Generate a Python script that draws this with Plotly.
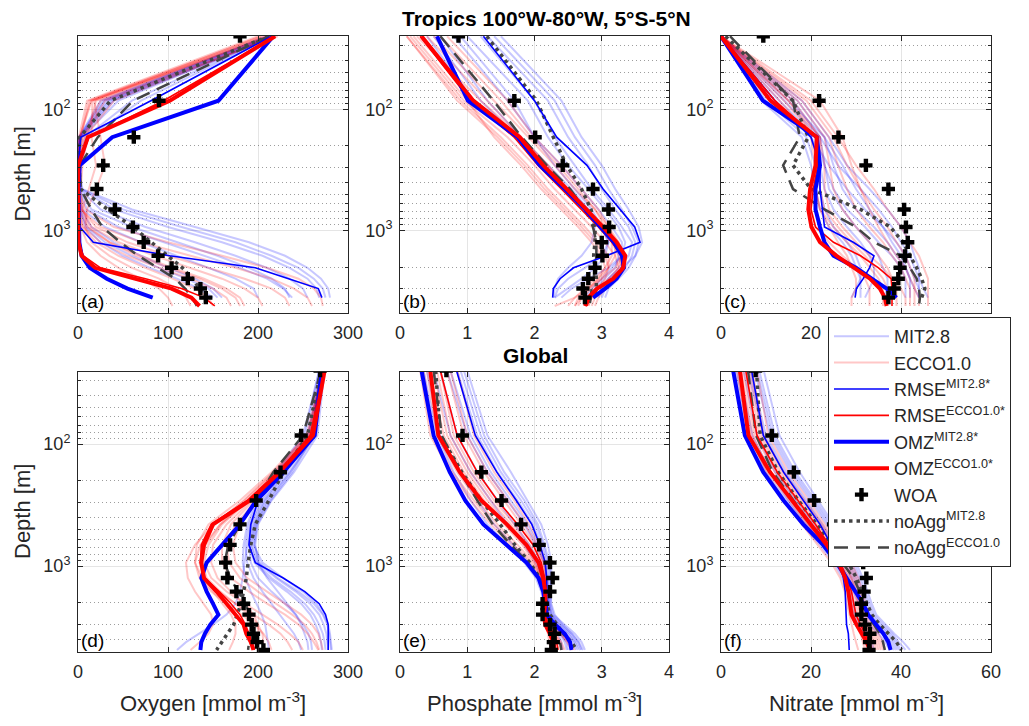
import plotly.graph_objects as go

# ---------------- data ----------------
depth = [25, 85, 170, 290, 455, 670, 935, 1250, 1615, 2030, 2495, 3010, 3575, 4190, 4855]

# (a) Oxygen, tropics  (MIT: 13 levels, ECCO: 14 levels)
a_mit_ens = [
    [215, 35, 2, 0.5, 5, 60, 130, 190, 230, 255, 270, 278, 280],
    [212, 30, 1, 0.5, 3, 40, 100, 160, 205, 235, 255, 265, 268],
    [218, 40, 3, 0.5, 1, 15, 60, 110, 155, 190, 215, 230, 235],
    [210, 25, 1, 0.5, 0.5, 5, 30, 70, 110, 145, 175, 195, 200],
    [214, 60, 8, 1, 1, 3, 15, 40, 70, 100, 130, 150, 160],
    [216, 45, 4, 0.5, 0.5, 2, 8, 25, 50, 80, 110, 135, 150],
    [213, 33, 2, 0.5, 2, 25, 75, 130, 175, 210, 235, 250, 255],
    [217, 38, 2, 0.5, 1, 10, 45, 95, 140, 180, 210, 228, 238],
    [211, 28, 1, 0.5, 4, 50, 115, 175, 215, 245, 262, 272, 275],
    [215, 70, 12, 2, 1, 2, 10, 30, 60, 90, 120, 145, 155],
]
a_ecco_ens = [
    [205, 12, 3, 0.5, 0.5, 1, 5, 20, 45, 75, 105, 130, 145, 150],
    [210, 18, 25, 30, 20, 10, 8, 15, 35, 60, 90, 110, 120, 125],
    [220, 25, 5, 1, 1, 4, 20, 55, 100, 145, 185, 215, 230, 235],
    [215, 15, 2, 0.5, 0.5, 2, 10, 35, 70, 105, 140, 165, 180, 185],
    [200, 10, 1, 0.5, 0.5, 8, 40, 100, 160, 210, 245, 262, 270, 272],
    [218, 40, 8, 2, 1, 1, 3, 10, 25, 45, 70, 90, 100, 105],
    [212, 20, 10, 5, 3, 5, 15, 45, 85, 125, 160, 185, 200, 205],
    [208, 14, 2, 0.5, 0.5, 3, 25, 70, 125, 175, 215, 240, 255, 260],
    [222, 30, 6, 1, 1, 1, 6, 25, 55, 90, 125, 150, 165, 170],
    [203, 16, 15, 20, 12, 5, 12, 35, 65, 100, 135, 160, 175, 180],
]
a_rmse_mit = [215, 81, 3, 0.5, 0.5, 0.5, 2, 17, 102, 197, 234, 267, 271]
a_rmse_ecco = [219, 95, 12, 0.5, 0, 0, 0, 1, 6, 25, 75, 115, 140, 152]
a_omz_mit = [217, 156, 38, 2, 0.5, 0.5, 0.5, 1.5, 4, 13, 32, 55, 83]
a_omz_ecco = [219, 102, 11, 0.3, 0, 0, 0, 0.5, 4, 19, 63, 104, 126, 135]
a_woa = [180, 90, 62, 28, 21, 41, 61, 73, 89, 104, 122, 136, 142]
a_noagg_mit = [212, 36, 2, 0.5, 3, 33, 61, 82, 99, 116, 127, 135, 139]
a_noagg_ecco = [212, 61, 22, 2, 3, 15, 27, 47, 67, 88, 108, 119, 127, 132]

# (b) Phosphate, tropics
b_mit_ens = [
    [1.5, 2.4, 2.7, 3.0, 3.2, 3.4, 3.55, 3.6, 3.5, 3.3, 3.1, 3.0, 2.95],
    [1.2, 2.0, 2.3, 2.6, 2.85, 3.1, 3.3, 3.45, 3.4, 3.25, 3.1, 3.0, 2.9],
    [0.9, 1.7, 2.0, 2.3, 2.6, 2.85, 3.0, 3.1, 3.05, 2.9, 2.7, 2.5, 2.3],
    [0.6, 1.3, 1.8, 2.2, 2.55, 2.8, 2.9, 2.85, 2.7, 2.5, 2.35, 2.3, 2.28],
    [1.0, 1.9, 2.2, 2.5, 2.8, 3.05, 3.25, 3.35, 3.3, 3.15, 3.0, 2.85, 2.75],
    [0.4, 1.1, 1.7, 2.1, 2.45, 2.75, 3.0, 3.2, 3.25, 3.2, 3.05, 2.9, 2.8],
    [1.3, 2.2, 2.5, 2.8, 3.0, 3.2, 3.4, 3.5, 3.45, 3.35, 3.2, 3.05, 3.0],
    [0.8, 1.6, 2.0, 2.4, 2.7, 2.95, 3.15, 3.3, 3.3, 3.1, 2.8, 2.55, 2.4],
    [1.4, 2.3, 2.6, 2.9, 3.1, 3.3, 3.45, 3.55, 3.5, 3.4, 3.25, 3.1, 3.05],
    [0.5, 1.2, 1.75, 2.15, 2.5, 2.8, 3.0, 3.1, 3.0, 2.75, 2.5, 2.35, 2.3],
]
b_ecco_ens = [
    [0.1, 0.9, 1.5, 1.9, 2.2, 2.5, 2.75, 2.95, 3.1, 3.1, 3.0, 2.85, 2.7, 2.6],
    [0.3, 1.1, 1.7, 2.1, 2.45, 2.75, 3.0, 3.2, 3.3, 3.25, 3.1, 2.9, 2.8, 2.75],
    [0.5, 1.4, 1.9, 2.3, 2.6, 2.9, 3.1, 3.25, 3.3, 3.2, 3.0, 2.8, 2.65, 2.6],
    [0.2, 1.0, 1.4, 1.8, 2.1, 2.4, 2.65, 2.85, 3.0, 3.05, 2.95, 2.8, 2.6, 2.3],
    [0.7, 1.6, 2.0, 2.4, 2.7, 2.95, 3.1, 3.2, 3.2, 3.1, 2.95, 2.8, 2.7, 2.65],
    [0.15, 0.95, 1.6, 2.0, 2.3, 2.6, 2.85, 3.05, 3.2, 3.25, 3.15, 3.0, 2.9, 2.85],
    [0.4, 1.3, 1.8, 2.2, 2.5, 2.8, 3.0, 3.15, 3.25, 3.3, 3.2, 3.05, 2.95, 2.9],
    [0.25, 1.2, 1.8, 2.2, 2.5, 2.8, 3.05, 3.25, 3.35, 3.3, 3.15, 2.95, 2.85, 2.8],
    [0.6, 1.5, 1.95, 2.35, 2.65, 2.9, 3.05, 3.15, 3.15, 3.05, 2.9, 2.75, 2.6, 2.5],
    [0.1, 0.85, 1.45, 1.85, 2.15, 2.45, 2.7, 2.9, 3.05, 3.1, 3.05, 2.95, 2.85, 2.8],
]
b_rmse_mit = [1.24, 2.0, 2.33, 2.78, 3.02, 3.27, 3.49, 3.57, 3.07, 2.58, 2.38, 2.28, 2.27]
b_rmse_ecco = [0.3, 1.05, 1.7, 2.05, 2.4, 2.7, 2.95, 3.15, 3.3, 3.3, 3.15, 2.95, 2.82, 2.78]
b_omz_mit = [0.55, 1.01, 1.75, 2.08, 2.45, 2.75, 2.98, 3.18, 3.30, 3.33, 3.22, 3.05, 2.87]
b_omz_ecco = [0.32, 1.09, 1.78, 2.13, 2.48, 2.78, 3.02, 3.22, 3.35, 3.32, 3.17, 2.93, 2.80, 2.75]
b_woa = [0.87, 1.70, 2.01, 2.42, 2.87, 3.10, 3.11, 3.0, 3.01, 2.90, 2.80, 2.72, 2.75]
b_noagg_mit = [1.29, 2.03, 2.28, 2.48, 2.70, 2.84, 2.90, 2.90, 2.88, 2.90, 2.92, 2.92, 2.88]
b_noagg_ecco = [0.6, 1.39, 1.81, 2.18, 2.53, 2.75, 2.87, 2.92, 2.92, 2.9, 2.88, 2.85, 2.83, 2.82]

# (c) Nitrate, tropics
c_mit_ens = [
    [0, 12, 20, 24, 28, 32, 36, 39, 41, 42, 43, 44, 44],
    [0, 14, 22, 26, 31, 35, 38, 40, 42, 43, 44, 45, 46],
    [0, 10, 19, 21, 22, 23, 25, 28, 30, 31, 31, 30, 29],
    [0, 16, 22, 23, 24, 27, 30, 33, 35, 36, 37, 37, 36],
    [0, 18, 24, 28, 33, 37, 40, 42, 43, 44, 44, 44, 44],
    [0, 11, 20, 22, 23, 25, 28, 31, 33, 34, 34, 33, 32],
    [0, 13, 21, 23, 25, 28, 32, 35, 38, 40, 41, 41, 41],
    [0, 15, 23, 25, 27, 30, 34, 37, 39, 41, 42, 42, 42],
    [0, 9, 18, 20, 21, 22, 24, 27, 29, 30, 31, 31, 31],
    [0, 17, 23, 27, 30, 33, 36, 38, 40, 41, 42, 43, 44],
]
c_ecco_ens = [
    [0, 15, 22, 22, 21, 22, 25, 28, 31, 33, 35, 36, 36, 36],
    [0, 17, 23, 24, 25, 27, 30, 33, 35, 37, 38, 39, 39, 39],
    [0, 19, 25, 28, 31, 34, 37, 39, 41, 42, 43, 43, 43, 43],
    [0, 14, 21, 21, 20, 20, 21, 24, 27, 30, 32, 33, 33, 33],
    [0, 20, 26, 30, 34, 37, 40, 42, 44, 45, 46, 46, 46, 46],
    [0, 16, 22, 23, 23, 24, 27, 30, 33, 36, 38, 40, 41, 41],
    [0, 13, 20, 21, 21, 22, 24, 26, 28, 29, 30, 30, 29, 29],
    [0, 18, 24, 26, 28, 30, 33, 36, 38, 40, 41, 42, 42, 42],
    [0, 22, 27, 29, 31, 33, 35, 37, 39, 41, 42, 43, 44, 44],
    [0, 15, 21, 22, 22, 23, 26, 29, 32, 34, 36, 37, 37, 37],
]
c_rmse_mit = [0, 12, 20, 22, 22, 22.5, 23, 29.4, 34, 33, 31.6, 30.1, 29.8]
c_rmse_ecco = [0, 12, 21, 21.5, 20.5, 20, 21, 25, 31, 35, 37.8, 38, 38, 38]
c_omz_mit = [0, 9.3, 21.3, 22, 21, 21, 22, 23, 25, 30, 33.5, 36.8, 39]
c_omz_ecco = [0, 11, 21.3, 21, 19.8, 19.4, 20.1, 22, 25.7, 29.4, 33.1, 35.3, 36.4, 36.8]
c_woa = [9.4, 21.8, 26.1, 32.2, 37.2, 40.7, 41.1, 41.5, 40.9, 39.8, 39.4, 38.5, 37.2]
c_noagg_mit = [1, 16, 19.4, 16, 20, 31, 37.6, 40.5, 42, 43.5, 44.6, 45.3, 44.6]
c_noagg_ecco = [2, 16, 17.5, 13.8, 16, 23, 30, 34, 40, 42, 43.5, 44, 44.2, 44]

# (d) Oxygen, global (15 levels)
d_mit_ens = [
    [272, 262, 235, 210, 198, 195, 205, 228, 250, 265, 273, 278, 280, 281, 282],
    [270, 258, 228, 205, 193, 190, 196, 212, 232, 248, 258, 264, 268, 270, 271],
    [274, 266, 240, 215, 200, 197, 200, 210, 222, 233, 242, 248, 252, 255, 256],
    [268, 252, 222, 200, 190, 186, 188, 195, 205, 215, 225, 233, 240, 245, 248],
    [271, 255, 225, 203, 192, 188, 185, 183, 180, 175, 165, 150, 135, 120, 110],
    [273, 264, 236, 212, 197, 193, 200, 220, 242, 258, 268, 273, 276, 277, 278],
    [269, 256, 230, 207, 195, 190, 192, 200, 215, 230, 242, 250, 256, 259, 260],
    [271, 260, 232, 208, 196, 192, 198, 215, 236, 252, 262, 268, 272, 274, 275],
    [273, 262, 238, 214, 199, 196, 202, 222, 245, 262, 272, 277, 279, 280, 281],
    [268, 250, 220, 198, 188, 184, 183, 186, 192, 198, 204, 208, 210, 211, 212],
]
d_ecco_ens = [
    [273, 258, 222, 190, 160, 145, 140, 148, 165, 185, 205, 222, 235, 245, 250],
    [272, 256, 218, 185, 150, 130, 120, 122, 130, 140, 148, 150, 145, 135, 125],
    [274, 260, 225, 195, 170, 160, 160, 170, 190, 210, 230, 245, 255, 262, 267],
    [271, 254, 215, 180, 145, 132, 130, 138, 150, 160, 170, 175, 175, 172, 168],
    [275, 262, 228, 200, 180, 172, 175, 188, 210, 230, 248, 260, 267, 270, 272],
    [272, 257, 220, 188, 158, 140, 135, 140, 155, 175, 195, 212, 225, 233, 238],
    [273, 259, 223, 193, 165, 150, 148, 155, 170, 185, 195, 200, 200, 198, 195],
    [272, 255, 217, 184, 152, 136, 130, 135, 148, 165, 182, 196, 206, 212, 215],
    [274, 261, 226, 198, 175, 165, 168, 180, 200, 220, 238, 252, 260, 265, 268],
    [273, 258, 221, 189, 158, 142, 138, 143, 158, 175, 190, 200, 205, 206, 205],
]
d_rmse_mit = [270, 260, 230, 200, 192, 190, 197, 228, 252, 268, 275, 278, 278, 278, 278]
d_rmse_ecco = [273, 258, 222, 188, 148, 137, 136, 141, 157, 170, 180, 186, 190, 193, 196]
d_omz_mit = [271, 263, 228, 198, 180, 160, 143, 137, 143, 150, 156, 147, 141, 137, 136]
d_omz_ecco = [274, 261, 224, 191, 150, 140, 137, 140, 154, 165, 176, 184, 187, 192, 195]
d_woa = [269, 248, 225, 198, 180, 169, 164, 166, 176, 184, 190, 193, 195, 199, 206]
d_noagg_mit = [270, 255, 228, 212, 197, 192, 189, 187, 184, 181, 177, 173, 166, 160, 154]
d_noagg_ecco = [270, 250, 217, 198, 180, 167, 163, 169, 178, 186, 191, 193, 192, 190, 189]

# (e) Phosphate, global
e_mit_ens = [
    [1.0, 1.3, 1.65, 1.9, 2.1, 2.2, 2.25, 2.25, 2.24, 2.24, 2.28, 2.45, 2.6, 2.7, 2.75],
    [0.85, 1.15, 1.45, 1.75, 1.98, 2.1, 2.18, 2.2, 2.2, 2.2, 2.22, 2.35, 2.48, 2.58, 2.62],
    [0.6, 0.85, 1.15, 1.45, 1.7, 1.92, 2.08, 2.15, 2.18, 2.19, 2.2, 2.3, 2.4, 2.48, 2.5],
    [0.4, 0.6, 0.88, 1.15, 1.4, 1.68, 1.92, 2.08, 2.15, 2.17, 2.18, 2.25, 2.35, 2.4, 2.42],
    [0.7, 1.0, 1.3, 1.6, 1.85, 2.02, 2.14, 2.18, 2.2, 2.22, 2.25, 2.38, 2.52, 2.62, 2.68],
    [0.35, 0.55, 0.8, 1.05, 1.3, 1.6, 1.85, 2.02, 2.1, 2.14, 2.16, 2.2, 2.25, 2.28, 2.3],
    [0.95, 1.25, 1.55, 1.85, 2.05, 2.15, 2.22, 2.24, 2.24, 2.25, 2.3, 2.42, 2.55, 2.65, 2.7],
    [0.75, 1.05, 1.35, 1.65, 1.9, 2.05, 2.15, 2.19, 2.2, 2.21, 2.24, 2.36, 2.5, 2.6, 2.65],
    [0.5, 0.75, 1.05, 1.35, 1.6, 1.85, 2.02, 2.12, 2.16, 2.18, 2.19, 2.27, 2.38, 2.45, 2.48],
    [0.9, 1.2, 1.5, 1.8, 2.02, 2.13, 2.2, 2.22, 2.22, 2.22, 2.26, 2.4, 2.56, 2.66, 2.72],
]
e_ecco_ens = [
    [0.3, 0.45, 0.75, 1.05, 1.35, 1.65, 1.9, 2.05, 2.12, 2.15, 2.15, 2.18, 2.22, 2.25, 2.27],
    [0.5, 0.7, 1.0, 1.3, 1.6, 1.85, 2.02, 2.1, 2.14, 2.15, 2.16, 2.2, 2.3, 2.38, 2.42],
    [0.7, 0.95, 1.25, 1.55, 1.8, 2.0, 2.12, 2.16, 2.17, 2.17, 2.18, 2.25, 2.38, 2.48, 2.55],
    [0.4, 0.55, 0.85, 1.15, 1.45, 1.75, 1.98, 2.1, 2.15, 2.16, 2.16, 2.2, 2.28, 2.33, 2.36],
    [0.85, 1.1, 1.4, 1.7, 1.92, 2.08, 2.16, 2.18, 2.18, 2.18, 2.2, 2.3, 2.42, 2.52, 2.6],
    [0.35, 0.5, 0.78, 1.1, 1.4, 1.7, 1.95, 2.08, 2.13, 2.14, 2.14, 2.16, 2.2, 2.22, 2.24],
    [0.6, 0.8, 1.1, 1.4, 1.7, 1.93, 2.06, 2.13, 2.16, 2.16, 2.17, 2.22, 2.32, 2.4, 2.45],
    [0.45, 0.65, 0.95, 1.25, 1.55, 1.82, 2.0, 2.09, 2.13, 2.14, 2.15, 2.19, 2.26, 2.3, 2.32],
    [0.75, 1.0, 1.3, 1.6, 1.86, 2.04, 2.14, 2.17, 2.18, 2.18, 2.19, 2.27, 2.4, 2.5, 2.57],
    [0.55, 0.75, 1.05, 1.35, 1.65, 1.9, 2.05, 2.12, 2.15, 2.16, 2.16, 2.21, 2.3, 2.36, 2.4],
]
e_rmse_mit = [0.84, 1.12, 1.44, 1.73, 1.96, 2.08, 2.16, 2.18, 2.18, 2.18, 2.2, 2.33, 2.45, 2.52, 2.55]
e_rmse_ecco = [0.6, 0.85, 1.15, 1.45, 1.75, 1.98, 2.1, 2.15, 2.17, 2.17, 2.16, 2.2, 2.28, 2.33, 2.35]
e_omz_mit = [0.32, 0.50, 0.74, 0.97, 1.24, 1.59, 1.88, 2.06, 2.13, 2.16, 2.18, 2.30, 2.45, 2.53, 2.55]
e_omz_ecco = [0.45, 0.57, 0.89, 1.21, 1.59, 1.88, 2.06, 2.13, 2.16, 2.16, 2.14, 2.16, 2.23, 2.28, 2.30]
e_woa = [0.69, 0.93, 1.21, 1.51, 1.80, 2.07, 2.23, 2.27, 2.23, 2.12, 2.12, 2.23, 2.30, 2.28, 2.25]
e_noagg_mit = [0.53, 0.6, 0.92, 1.21, 1.49, 1.71, 1.93, 2.08, 2.16, 2.18, 2.23, 2.33, 2.43, 2.55, 2.63]
e_noagg_ecco = [0.5, 0.62, 0.9, 1.15, 1.38, 1.65, 1.9, 2.07, 2.15, 2.17, 2.18, 2.25, 2.33, 2.38, 2.4]

# (f) Nitrate, global
f_mit_ens = [
    [9.5, 13, 17.5, 21.5, 25, 28, 30, 31.5, 32.5, 33.5, 34.5, 36.5, 38.5, 40.5, 42],
    [7.5, 11, 15.5, 20, 23.5, 26.5, 28.5, 30, 31, 32, 33, 35, 37, 38.5, 39.5],
    [5, 8, 12, 16.5, 20.5, 24, 26.5, 28.5, 29.5, 30.5, 31.5, 33, 35, 36.5, 37.5],
    [3, 5.5, 9.5, 14, 18, 22, 25, 27, 28, 28.5, 29, 30, 31.5, 32.5, 33],
    [8.5, 12, 16.5, 21, 24.5, 27.5, 29.5, 31, 32, 33, 34, 36, 38, 39.5, 41],
    [6, 9.5, 14, 18.5, 22, 25, 27.5, 29, 30, 31, 32, 34, 36, 37.5, 38.5],
    [4, 7, 11, 15, 19, 23, 26, 28, 29, 29.5, 30, 31, 32.5, 33.5, 34],
    [6.5, 10, 14.5, 19, 22.5, 25.5, 28, 29.5, 30.5, 31.5, 32.5, 34.5, 36.5, 38, 39],
    [3.5, 6, 10, 14.5, 18.5, 22.5, 25.5, 27.5, 28.5, 29, 29.5, 30.5, 32, 33, 33.5],
    [8, 11.5, 16, 20.5, 24, 27, 29, 30.5, 31.5, 32.5, 33.5, 35.5, 37.5, 39, 40],
]
f_ecco_ens = [
    [3.5, 6, 10.5, 15, 19, 22.5, 25.5, 27.5, 28.5, 29, 29.5, 30, 31, 31.5, 32],
    [5, 7.5, 12, 16.5, 20.5, 24, 26.5, 28.5, 29.5, 30, 30.5, 31.5, 32.5, 33.5, 34],
    [6.5, 9, 13.5, 18, 22, 25.5, 28, 29.5, 30.5, 31, 31.5, 32.5, 34, 35, 35.5],
    [4.5, 7, 11, 15.5, 19.5, 23, 26, 28, 29, 29.5, 30, 31, 32, 33, 33.5],
    [8, 10.5, 15, 19.5, 23, 26.5, 29, 30.5, 31.5, 32, 32.5, 33.5, 35, 36, 36.5],
    [4, 6.5, 10, 14, 18, 21.5, 24.5, 26.5, 27.5, 28, 28.5, 29, 29.5, 30, 30.5],
    [5.5, 8, 12.5, 17, 21, 24.5, 27, 29, 30, 30.5, 31, 32, 33, 34, 34.5],
    [4, 6.5, 11, 15.5, 19.5, 23, 25.5, 27.5, 28.5, 29, 29.5, 30.5, 31.5, 32, 32.5],
    [6, 8.5, 13, 17.5, 21.5, 25, 27.5, 29, 30, 30.5, 31, 32, 33.5, 34.5, 35],
    [7, 9.5, 14, 18.5, 22.5, 26, 28.5, 30, 31, 31.5, 32, 33, 34.5, 35.5, 36],
]
f_rmse_mit = [6.8, 9.4, 13.9, 18.3, 22, 24.5, 26.4, 27.2, 27.6, 27.7, 27.8, 27.9, 28.3, 28.4, 28.5]
f_rmse_ecco = [5.5, 8, 12.5, 17, 21, 24, 26.5, 28, 29, 29.5, 30, 31, 32, 33, 33.5]
f_omz_mit = [2.7, 5.3, 9.4, 13.9, 18.3, 22.7, 25.7, 27.9, 30.1, 31.6, 32.7, 34.6, 36.1, 37.2, 37.7]
f_omz_ecco = [4.2, 6.1, 10.9, 15.7, 19.8, 23.5, 26.1, 27.6, 28.3, 28.7, 29.0, 30.1, 31.3, 32.4, 33.1]
f_woa = [7.7, 11.3, 16.2, 20.7, 25.0, 29.0, 31.6, 32.3, 31.8, 31.2, 31.2, 32.0, 33.1, 33.0, 32.9]
f_noagg_mit = [7.9, 8.7, 12.7, 17.2, 21.3, 24.5, 28.3, 30.1, 31.3, 32.4, 33.5, 35.3, 37.2, 39, 40.1]
f_noagg_ecco = [6, 7.8, 11.5, 16, 20, 24, 27, 29.5, 30.8, 31.6, 32.5, 34, 35.3, 36, 36.4]

x_ticks_oxygen = [0, 100, 200, 300]
x_ticks_phosphate = [0, 1, 2, 3, 4]
x_ticks_nitrate = [0, 20, 40, 60]
panel_labels = ["(a)", "(b)", "(c)", "(d)", "(e)", "(f)"]
x_titles = ["Oxygen [mmol m<sup>-3</sup>]", "Phosphate [mmol m<sup>-3</sup>]", "Nitrate [mmol m<sup>-3</sup>]"]
legend_names = ["MIT2.8", "ECCO1.0", "RMSE<sup>MIT2.8*</sup>", "RMSE<sup>ECCO1.0*</sup>",
                "OMZ<sup>MIT2.8*</sup>", "OMZ<sup>ECCO1.0*</sup>", "WOA",
                "noAgg<sup>MIT2.8</sup>", "noAgg<sup>ECCO1.0</sup>"]

panels = [
    (a_mit_ens, a_ecco_ens, a_rmse_mit, a_rmse_ecco, a_omz_mit, a_omz_ecco, a_woa, a_noagg_mit, a_noagg_ecco),
    (b_mit_ens, b_ecco_ens, b_rmse_mit, b_rmse_ecco, b_omz_mit, b_omz_ecco, b_woa, b_noagg_mit, b_noagg_ecco),
    (c_mit_ens, c_ecco_ens, c_rmse_mit, c_rmse_ecco, c_omz_mit, c_omz_ecco, c_woa, c_noagg_mit, c_noagg_ecco),
    (d_mit_ens, d_ecco_ens, d_rmse_mit, d_rmse_ecco, d_omz_mit, d_omz_ecco, d_woa, d_noagg_mit, d_noagg_ecco),
    (e_mit_ens, e_ecco_ens, e_rmse_mit, e_rmse_ecco, e_omz_mit, e_omz_ecco, e_woa, e_noagg_mit, e_noagg_ecco),
    (f_mit_ens, f_ecco_ens, f_rmse_mit, f_rmse_ecco, f_omz_mit, f_omz_ecco, f_woa, f_noagg_mit, f_noagg_ecco),
]

# ---------------- layout geometry ----------------
W, H = 1029, 726
col_px = [(78, 348), (400, 669), (721, 991)]
row_px = [(36, 313), (372, 652)]
row_yrange = [(1.396, 3.68), (1.41, 3.703)]
x_ranges = [[0, 300], [0, 4], [0, 60]]
x_tickvals = [x_ticks_oxygen, x_ticks_phosphate, x_ticks_nitrate]

FONT = "Liberation Sans, Arial, Helvetica, sans-serif"
TXT = "#262626"
GRID = "rgba(38,38,38,0.12)"
MINOR = "rgba(38,38,38,0.45)"
GRAY = "#444444"
C_MIT_ENS = "rgba(0,0,255,0.22)"
C_ECCO_ENS = "rgba(255,0,0,0.22)"

fig = go.Figure()

minor_vals = [30, 40, 50, 60, 70, 80, 90, 200, 300, 400, 500, 600, 700, 800, 900, 2000, 3000, 4000]

for k in range(6):
    r, c = divmod(k, 3)
    xa = "x" if k == 0 else f"x{k+1}"
    ya = "y" if k == 0 else f"y{k+1}"
    mit_ens, ecco_ens, rmse_mit, rmse_ecco, omz_mit, omz_ecco, woa, noagg_mit, noagg_ecco = panels[k]
    first = (k == 0)

    for i, v in enumerate(mit_ens):
        fig.add_trace(go.Scatter(x=v, y=depth[:len(v)], mode="lines", xaxis=xa, yaxis=ya,
                                 line=dict(color=C_MIT_ENS, width=2), name=legend_names[0],
                                 legendrank=1, showlegend=first and i == 0, hoverinfo="skip"))
    for i, v in enumerate(ecco_ens):
        fig.add_trace(go.Scatter(x=v, y=depth[:len(v)], mode="lines", xaxis=xa, yaxis=ya,
                                 line=dict(color=C_ECCO_ENS, width=2), name=legend_names[1],
                                 legendrank=2, showlegend=first and i == 0, hoverinfo="skip"))
    fig.add_trace(go.Scatter(x=noagg_mit, y=depth[:len(noagg_mit)], mode="lines", xaxis=xa, yaxis=ya,
                             line=dict(color=GRAY, width=3.5, dash="3.5px,4px"), name=legend_names[7],
                             legendrank=8, showlegend=first))
    fig.add_trace(go.Scatter(x=noagg_ecco, y=depth[:len(noagg_ecco)], mode="lines", xaxis=xa, yaxis=ya,
                             line=dict(color=GRAY, width=2.5, dash="14px,8px"), name=legend_names[8],
                             legendrank=9, showlegend=first))
    fig.add_trace(go.Scatter(x=rmse_mit, y=depth[:len(rmse_mit)], mode="lines", xaxis=xa, yaxis=ya,
                             line=dict(color="#0000ff", width=1.6), name=legend_names[2],
                             legendrank=3, showlegend=first))
    fig.add_trace(go.Scatter(x=rmse_ecco, y=depth[:len(rmse_ecco)], mode="lines", xaxis=xa, yaxis=ya,
                             line=dict(color="#ff0000", width=1.6), name=legend_names[3],
                             legendrank=4, showlegend=first))
    fig.add_trace(go.Scatter(x=omz_mit, y=depth[:len(omz_mit)], mode="lines", xaxis=xa, yaxis=ya,
                             line=dict(color="#0000ff", width=4), name=legend_names[4],
                             legendrank=5, showlegend=first))
    fig.add_trace(go.Scatter(x=omz_ecco, y=depth[:len(omz_ecco)], mode="lines", xaxis=xa, yaxis=ya,
                             line=dict(color="#ff0000", width=4), name=legend_names[5],
                             legendrank=6, showlegend=first))
    fig.add_trace(go.Scatter(x=woa, y=depth[:len(woa)], mode="markers", xaxis=xa, yaxis=ya,
                             marker=dict(symbol="cross", size=11, color="black",
                                         line=dict(width=0)),
                             name=legend_names[6], legendrank=7, showlegend=first))

    x0, x1 = col_px[c]
    y0, y1 = row_px[r]
    axis_common = dict(showline=True, linecolor=TXT, linewidth=1, mirror="ticks",
                       ticks="inside", ticklen=5, tickcolor=TXT, tickwidth=1,
                       showgrid=True, gridcolor=GRID, gridwidth=1, zeroline=False,
                       automargin=False,
                       tickfont=dict(family=FONT, size=18, color=TXT))
    xkey = "xaxis" if k == 0 else f"xaxis{k+1}"
    ykey = "yaxis" if k == 0 else f"yaxis{k+1}"
    fig.update_layout(**{
        xkey: dict(axis_common, domain=[x0 / W, x1 / W], anchor=ya, range=x_ranges[c],
                   tickmode="array", tickvals=x_tickvals[c],
                   ticktext=[str(t) for t in x_tickvals[c]], ticklabelstandoff=3),
        ykey: dict(axis_common, domain=[1 - y1 / H, 1 - y0 / H], anchor=xa, type="log",
                   range=[row_yrange[r][1], row_yrange[r][0]],
                   tickmode="array", tickvals=[100, 1000],
                   ticktext=["10<sup>2</sup>", "10<sup>3</sup>"], ticklabelstandoff=3,
                   minor=dict(tickmode="array", tickvals=minor_vals, ticks="inside", ticklen=3,
                              tickcolor=TXT, showgrid=True, gridcolor=MINOR, griddash="1px,3px",
                              gridwidth=1)),
    })

annotations = []
for k in range(6):
    r, c = divmod(k, 3)
    x0, x1 = col_px[c]
    y0, y1 = row_px[r]
    annotations.append(dict(text=panel_labels[k], x=(x0 + 1) / W, y=1 - (y1 + 1) / H,
                            xref="paper", yref="paper", xanchor="left", yanchor="bottom",
                            showarrow=False, font=dict(family=FONT, size=19, color="black")))
for r in range(2):
    y0, y1 = row_px[r]
    annotations.append(dict(text="Depth [m]", x=22 / W, y=1 - ((y0 + y1) / 2) / H,
                            xref="paper", yref="paper", xanchor="center", yanchor="middle",
                            textangle=-90, showarrow=False,
                            font=dict(family=FONT, size=22, color=TXT)))
for c in range(3):
    x0, x1 = col_px[c]
    annotations.append(dict(text=x_titles[c], x=((x0 + x1) / 2) / W, y=1 - 702 / H,
                            xref="paper", yref="paper", xanchor="center", yanchor="middle",
                            showarrow=False, font=dict(family=FONT, size=22, color=TXT)))
annotations.append(dict(text="<b>Tropics 100°W-80°W, 5°S-5°N</b>", x=546 / W, y=1 - 18 / H,
                        xref="paper", yref="paper", xanchor="center", yanchor="middle",
                        showarrow=False, font=dict(family=FONT, size=21, color="black")))
annotations.append(dict(text="<b>Global</b>", x=535 / W, y=1 - 355 / H,
                        xref="paper", yref="paper", xanchor="center", yanchor="middle",
                        showarrow=False, font=dict(family=FONT, size=21, color="black")))

fig.update_layout(
    width=W, height=H, margin=dict(l=0, r=0, t=0, b=0, autoexpand=False),
    paper_bgcolor="white", plot_bgcolor="white",
    font=dict(family=FONT, size=16, color=TXT),
    annotations=annotations,
    legend=dict(x=828 / W, y=1 - 317 / H, xanchor="left", yanchor="top",
                bgcolor="white", bordercolor=TXT, borderwidth=1,
                font=dict(family=FONT, size=18, color=TXT),
                itemwidth=55, tracegroupgap=0, traceorder="normal"),
)

fig.write_html("out.html", config={"displayModeBar": False},
               post_script="document.body.style.margin='0';document.body.style.padding='0';")
